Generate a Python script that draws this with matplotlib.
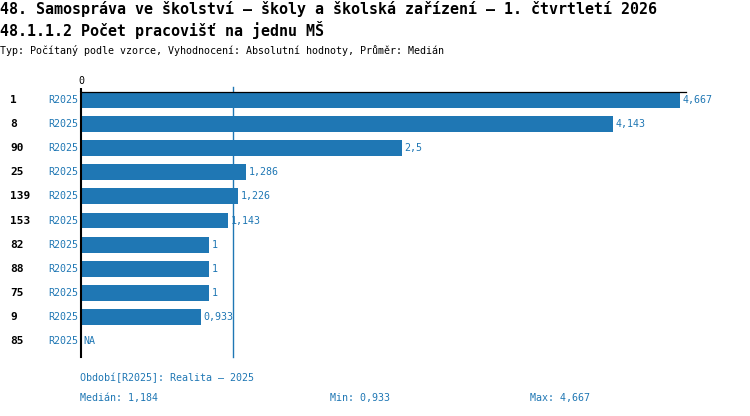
import matplotlib
matplotlib.use('Agg')
import matplotlib.pyplot as plt
from matplotlib.transforms import blended_transform_factory

title1 = "48. Samospráva ve školství – školy a školská zařízení – 1. čtvrtletí 2026"
title2 = "48.1.1.2 Počet pracovišť na jednu MŠ"
subtitle = "Typ: Počítaný podle vzorce, Vyhodnocení: Absolutní hodnoty, Průměr: Medián"

categories = ['1', '8', '90', '25', '139', '153', '82', '88', '75', '9', '85']
periods = ['R2025'] * 11
values = [4.667, 4.143, 2.5, 1.286, 1.226, 1.143, 1, 1, 1, 0.933, None]
value_labels = ['4,667', '4,143', '2,5', '1,286', '1,226', '1,143', '1', '1', '1', '0,933', 'NA']
median = 1.184
vmin = 0.933
vmax = 4.667
legend_text = "Období[R2025]: Realita – 2025"
median_text = "Medián: 1,184"
min_text = "Min: 0,933"
max_text = "Max: 4,667"

BLUE = '#1f77b4'
MONO = 'DejaVu Sans Mono'
plt.rcParams['font.family'] = [MONO, 'DejaVu Sans']

W, H = 750, 416
fig = plt.figure(figsize=(7.5, 4.16), dpi=100)
ax = fig.add_axes([81 / W, 1 - 357 / H, (686 - 81) / W, (357 - 92) / H])

y = list(range(len(categories)))
bar_vals = [v if v is not None else 0 for v in values]
ax.barh(y, bar_vals, height=0.66, color=BLUE)
ax.set_xlim(0, vmax * 605 / 599)
ax.set_ylim(10.66, -0.33)

for s in ['right', 'bottom']:
    ax.spines[s].set_visible(False)
ax.spines['left'].set_linewidth(1.5)
ax.spines['top'].set_linewidth(0.9)
ax.xaxis.tick_top()
ax.set_xticks([0])
ax.set_xticklabels(['0'], fontsize=7.2)
ax.tick_params(axis='x', length=3, width=1.5, pad=1)
ax.set_yticks([])

# median line
ax.plot([median, median], [-0.55, 10.66], color=BLUE, lw=1, clip_on=False)

for i, (v, lab) in enumerate(zip(bar_vals, value_labels)):
    ax.annotate(lab, (v, i), xytext=(2, 0), textcoords='offset points',
                va='center', ha='left', fontsize=7.2, color=BLUE)

tr = blended_transform_factory(fig.transFigure, ax.transData)
for i, (c, p) in enumerate(zip(categories, periods)):
    ax.text(10 / W, i, c, transform=tr, va='center', ha='left',
            fontsize=8, fontweight='bold', color='black')
    ax.text(78 / W, i, p, transform=tr, va='center', ha='right',
            fontsize=7.2, color=BLUE)

fig.text(0, 1 - 9 / H, title1, va='center', ha='left', fontsize=10.8, fontweight='bold')
fig.text(0, 1 - 30 / H, title2, va='center', ha='left', fontsize=10.8, fontweight='bold')
fig.text(0, 1 - 50 / H, subtitle, va='center', ha='left', fontsize=7.2)

fig.text(80 / W, 1 - 378 / H, legend_text, va='center', ha='left', fontsize=7.2, color=BLUE)
fig.text(80 / W, 1 - 398 / H, median_text, va='center', ha='left', fontsize=7.2, color=BLUE)
fig.text(330 / W, 1 - 398 / H, min_text, va='center', ha='left', fontsize=7.2, color=BLUE)
fig.text(530 / W, 1 - 398 / H, max_text, va='center', ha='left', fontsize=7.2, color=BLUE)

fig.savefig('out.png', dpi=100)
